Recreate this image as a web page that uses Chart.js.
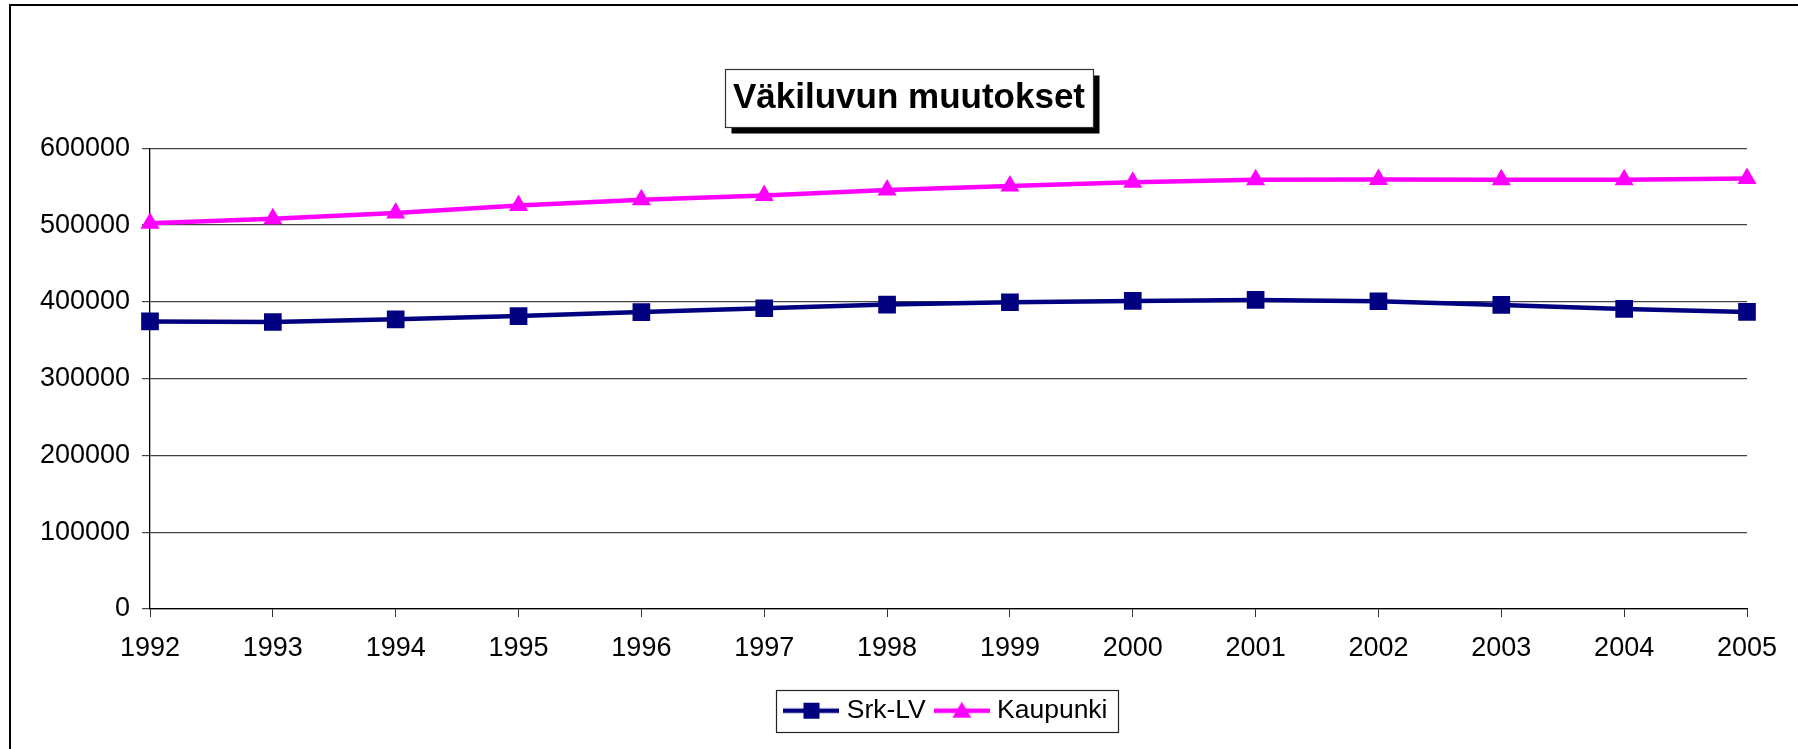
<!DOCTYPE html>
<html>
<head>
<meta charset="utf-8">
<script src="https://cdn.jsdelivr.net/npm/chart.js@4.4.1/dist/chart.umd.min.js"></script>
<style>
  html, body { margin: 0; padding: 0; background: #ffffff; overflow: hidden; }
  #wrap { position: relative; width: 1798px; height: 749px; }
  #frame { position: absolute; left: 9px; top: 4px; width: 1900px; height: 900px;
           border-top: 2px solid #000; border-left: 2px solid #000; box-sizing: border-box; }
  #c { position: absolute; left: 0; top: 0; }
</style>
</head>
<body>
<div id="wrap">
  <div id="frame"></div>
  <canvas id="c" width="1798" height="749"></canvas>
</div>
<script>
const chartTitle = "Väkiluvun muutokset";
const years = ["1992","1993","1994","1995","1996","1997","1998","1999","2000","2001","2002","2003","2004","2005"];
const srkLV = [374500, 373800, 377200, 381500, 386700, 391700, 396500, 399500, 401200, 402500, 400800, 396000, 390800, 386900];
const kaupunki = [502500, 508200, 515600, 525500, 532900, 538500, 545800, 551000, 555800, 558900, 559500, 558900, 558900, 560800];
const yTicks = [0, 100000, 200000, 300000, 400000, 500000, 600000];
const seriesNames = ["Srk-LV", "Kaupunki"];
const seriesColors = ["#000080", "#FF00FF"];

const FONT = "'Liberation Sans', Arial, Helvetica, sans-serif";
const TICK_SIZE = 27;
const TITLE_PAD_TOP = 77;
const TITLE_SIZE = 35;
const TITLE_LH = 1.2;

function legendIcon(color, style) {
  const cv = document.createElement('canvas');
  cv.width = 56; cv.height = 22;
  const g = cv.getContext('2d');
  g.strokeStyle = color; g.lineWidth = 4.5;
  g.beginPath(); g.moveTo(0, 11); g.lineTo(56, 11); g.stroke();
  g.fillStyle = color;
  if (style === 'rect') {
    g.fillRect(28 - 8, 11 - 8, 16, 16);
  } else {
    g.beginPath(); g.moveTo(28, 2); g.lineTo(37.5, 18); g.lineTo(18.5, 18); g.closePath(); g.fill();
  }
  return cv;
}
const icons = [legendIcon(seriesColors[0], 'rect'), legendIcon(seriesColors[1], 'tri')];

const boxesPlugin = {
  id: 'boxes',
  beforeDraw(chart) {
    const tb = chart.titleBlock;
    if (!tb) return;
    const ctx = chart.ctx;
    ctx.save();
    ctx.font = "bold " + TITLE_SIZE + "px " + FONT;
    const w = ctx.measureText(chartTitle).width;
    const cx = (tb.left + tb.right) / 2;
    const cy = tb.top + TITLE_PAD_TOP + TITLE_SIZE * TITLE_LH / 2;
    const bx = Math.round(cx - w / 2 - 8) + 0.5, by = Math.round(cy - 29) + 0.5;
    const bw = Math.round(w + 16), bh = 58;
    ctx.fillStyle = '#000';
    ctx.fillRect(bx + 6, by + 6, bw, bh);
    ctx.fillStyle = '#fff';
    ctx.fillRect(bx, by, bw, bh);
    ctx.strokeStyle = '#333';
    ctx.lineWidth = 1.2;
    ctx.strokeRect(bx, by, bw, bh);
    ctx.restore();
  },
  afterDraw(chart) {
    const lg = chart.legend;
    if (!lg || !lg.legendHitBoxes || !lg.legendHitBoxes.length) return;
    const hb = lg.legendHitBoxes;
    const first = hb[0], last = hb[hb.length - 1];
    const ctx = chart.ctx;
    const cy = first.top + first.height / 2;
    const left = Math.round(first.left - 13) + 0.5;
    const right = Math.round(last.left + last.width + 10) + 0.5;
    ctx.save();
    ctx.strokeStyle = '#222';
    ctx.lineWidth = 1.2;
    ctx.strokeRect(left, Math.round(cy - 21) + 0.5, right - left, 42);
    ctx.restore();
  }
};

new Chart(document.getElementById('c'), {
  type: 'line',
  data: {
    labels: years,
    datasets: [
      { label: seriesNames[0], data: srkLV, borderColor: seriesColors[0], backgroundColor: seriesColors[0],
        borderWidth: 4.5, pointStyle: 'rect', pointRadius: 12.5, pointHoverRadius: 12.5, pointBorderWidth: 0, tension: 0, yAxisID: 'y' },
      { label: seriesNames[1], data: kaupunki, borderColor: seriesColors[1], backgroundColor: seriesColors[1],
        borderWidth: 4.5, pointStyle: 'triangle', pointRadius: 11, pointHoverRadius: 11, pointBorderWidth: 0, tension: 0, yAxisID: 'y' }
    ]
  },
  options: {
    responsive: false,
    animation: false,
    devicePixelRatio: 1,
    layout: { padding: { left: 20, right: 0, top: 0, bottom: 15 } },
    plugins: {
      tooltip: { enabled: false },
      title: {
        display: true, text: chartTitle, color: '#000',
        font: { family: FONT, size: TITLE_SIZE, weight: 'bold', lineHeight: TITLE_LH },
        padding: { top: TITLE_PAD_TOP, bottom: 148.3 - TITLE_PAD_TOP - TITLE_SIZE * TITLE_LH }
      },
      legend: {
        display: true, position: 'bottom', fullSize: false,
        labels: {
          color: '#000', font: { family: FONT, size: 26.5 }, padding: 14,
          usePointStyle: true, pointStyleWidth: 44, boxWidth: 44,
          generateLabels(chart) {
            return chart.data.datasets.map((ds, i) => ({
              text: ds.label, pointStyle: icons[i], fillStyle: ds.borderColor,
              strokeStyle: ds.borderColor, lineWidth: 0, hidden: false, datasetIndex: i, fontColor: '#000'
            }));
          }
        }
      }
    },
    scales: {
      x: {
        type: 'category', offset: false,
        grid: { display: true, drawOnChartArea: false, drawTicks: true, tickLength: 8, color: '#333', lineWidth: 1 },
        border: { display: true, color: '#000', width: 1.3 },
        ticks: { color: '#000', font: { family: FONT, size: TICK_SIZE }, padding: 15, maxRotation: 0, autoSkip: false },
        afterFit(s) { s.height = 74.5; }
      },
      y: {
        position: 'left',
        min: 0, max: 600000,
        afterBuildTicks(s) { s.ticks = yTicks.map(v => ({ value: v })); },
        grid: { display: true, drawOnChartArea: true, drawTicks: true, tickLength: 8, color: '#444', lineWidth: 1.2 },
        border: { display: true, color: '#000', width: 1.3 },
        ticks: { color: '#000', font: { family: FONT, size: TICK_SIZE }, padding: 12,
                 callback: (v) => String(v) },
        afterFit(s) { s.width = 130; }
      },
      yRight: {
        position: 'right', display: true,
        min: 0, max: 600000,
        grid: { display: false, drawOnChartArea: false, drawTicks: false },
        border: { display: false },
        ticks: { display: false },
        afterFit(s) { s.width = 51; }
      }
    }
  },
  plugins: [boxesPlugin]
});
</script>
</body>
</html>
